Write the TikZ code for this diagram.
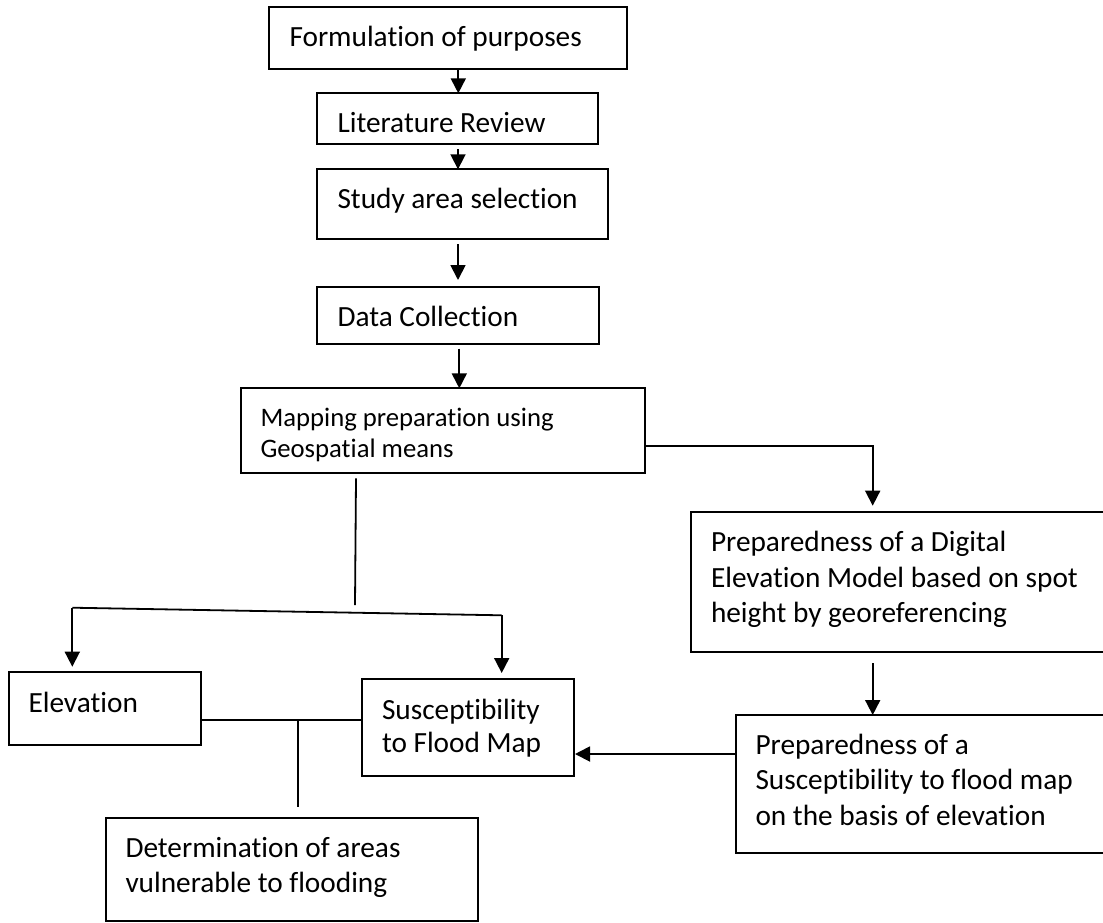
\documentclass[tikz,border=0pt]{standalone}
\usepackage{fontspec}
\setmainfont{Carlito}[Ligatures=NoCommon]
\usetikzlibrary{arrows.meta}
\begin{document}
\begin{tikzpicture}[x=1pt,y=-1pt,
  box/.style={draw, line width=2pt, rectangle, inner sep=0pt, outer sep=0pt},
  openbox/.style={rectangle, inner sep=0pt, outer sep=0pt},
  txt/.style={anchor=base west, inner sep=0pt, outer sep=0pt, font=\fontsize{29.3}{35}\selectfont},
  smalltxt/.style={txt, font=\fontsize{26.7}{31}\selectfont},
  conn/.style={line width=1.8pt},
  arr/.style={conn, -{Triangle[width=15pt,length=15pt]}}]
\useasboundingbox (0,0) rectangle (1103,922);

% boxes
\node[box, minimum width=358pt, minimum height=61.4pt] (b1) at (448.3,38) {};
\node[box, minimum width=281pt, minimum height=50.7pt] (b2) at (457.8,118.65) {};
\node[box, minimum width=291pt, minimum height=69.7pt] (b3) at (462.8,204.15) {};
\node[box, minimum width=282pt, minimum height=57.3pt] (b4) at (458,315.35) {};
\node[box, minimum width=404.3pt, minimum height=84.4pt] (b5) at (442.85,430.5) {};
\node[openbox, minimum width=413pt, minimum height=140.6pt] (b6) at (897.5,582) {};
\draw[line width=2pt] (b6.north east) -- (b6.north west) -- (b6.south west) -- (b6.south east);
\node[box, minimum width=192.6pt, minimum height=72.7pt] (b7) at (105,708.65) {};
\node[box, minimum width=212pt, minimum height=97pt] (b8) at (468,727.5) {};
\node[openbox, minimum width=368pt, minimum height=138.3pt] (b9) at (920,784.15) {};
\draw[line width=2pt] (b9.north east) -- (b9.north west) -- (b9.south west) -- (b9.south east);
\node[box, minimum width=372pt, minimum height=102.2pt] (b10) at (291.7,869.4) {};

% texts
\node[txt] (t1) at (289.5,46) {Formulation of purposes};
\node[txt] (t2) at (337.5,132.3) {Literature Review};
\node[txt] (t3) at (337.5,208.3) {Study area selection};
\node[txt] (t4) at (337.5,326) {Data Collection};
\node[smalltxt] (t5a) at (260.5,426) {Mapping preparation using};
\node[smalltxt] (t5b) at (260.5,457.3) {Geospatial means};
\node[txt] (t6a) at (711,551) {Preparedness of a Digital};
\node[txt] (t6b) at (711,587.7) {Elevation Model based on spot};
\node[txt] (t6c) at (711,622.7) {height by georeferencing};
\node[txt] (t7) at (28.5,712.7) {Elevation};
\node[txt] (t8a) at (382,719) {Susceptibility};
\node[txt] (t8b) at (382,752.7) {to Flood Map};
\node[txt] (t9a) at (755.5,754.3) {Preparedness of a};
\node[txt] (t9b) at (755.5,789.3) {Susceptibility to flood map};
\node[txt] (t9c) at (755.5,825) {on the basis of elevation};
\node[txt] (t10a) at (125.5,857.7) {Determination of areas};
\node[txt] (t10b) at (125.5,892.7) {vulnerable to flooding};

% connector points
\coordinate (a1) at (458.3,0);
\coordinate (a2) at (458,149);
\coordinate (a3) at (458,244);
\coordinate (a4) at (459.3,348.7);
\coordinate (a5) at (872.7,446);
\coordinate (a6) at (872.7,663.3);
\coordinate (a7) at (736,754);
\coordinate (v1s) at (356,478.3);
\coordinate (v1e) at (355,605);
\coordinate (hl) at (72.3,607.7);
\coordinate (hr) at (501.7,615.3);
\coordinate (j) at (297.7,720);

% connectors
\draw[arr] (b1.south -| a1) -- (b2.north -| a1);
\draw[arr] (a2) -- (b3.north -| a2);
\draw[arr, shorten >=6.7pt] (a3) -- (b4.north -| a3);
\draw[arr] (a4) -- (b5.north -| a4);
\draw[arr, shorten >=6pt] (b5.east |- a5) -- (a5) -- (b6.north -| a5);
\draw[arr] (a6) -- (b9.north -| a6);
\draw[arr, shorten >=1pt] (b9.west |- a7) -- (b8.east |- a7);
\draw[conn] (v1s) -- (v1e);
\draw[conn] (hl) -- (hr);
\draw[arr, shorten >=5.6pt] (hl) -- (b7.north -| hl);
\draw[arr, shorten >=6pt] (hr) -- (b8.north -| hr);
\draw[conn] (b7.east |- j) -- (b8.west |- j);
\draw[conn, shorten >=11.6pt] (j) -- (b10.north -| j);
\end{tikzpicture}
\end{document}
